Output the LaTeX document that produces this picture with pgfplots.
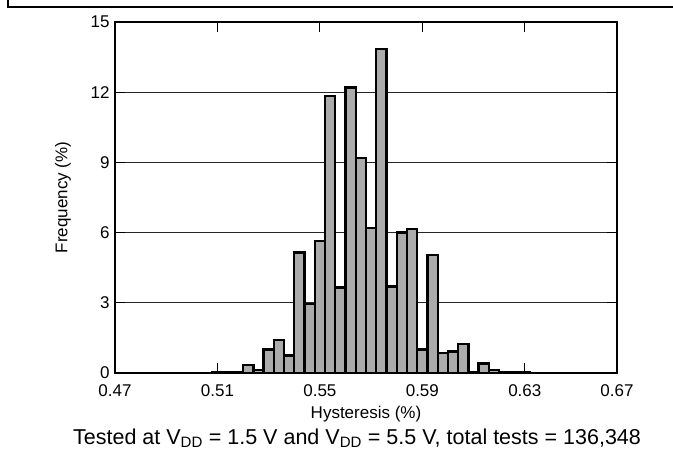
\documentclass[border=0pt]{standalone}
\usepackage{fontspec}
\setmainfont{Liberation Sans}
\usepackage{pgfplots}
\pgfplotsset{compat=1.18}
\begin{document}
\begin{tikzpicture}[x=1pt,y=1pt]
\useasboundingbox (0,0) rectangle (673,456);
\draw[line width=1.6pt] (8,456) -- (8,449) -- (673,449);
\begin{axis}[
  at={(115pt,83pt)}, anchor=south west,
  width=502pt, height=351pt, scale only axis,
  xmin=0.47, xmax=0.666, ymin=0, ymax=15,
  xtick={0.47,0.51,0.55,0.59,0.63,0.666},
  xticklabels={0.47,0.51,0.55,0.59,0.63,0.67},
  ytick={0,3,6,9,12,15},
  ymajorgrids,
  grid style={line width=1pt, black!85},
  tick style={line width=1pt, black},
  major tick length=10pt, tick align=inside,
  axis line style={line width=2.8pt},
  tick label style={font=\fontsize{17}{20}\selectfont},
  xticklabel style={yshift=-8pt},
  yticklabel style={xshift=-2pt},
  /pgf/number format/assume math mode=true,
  xlabel={Hysteresis (\%)}, ylabel={Frequency (\%)},
  label style={font=\fontsize{17}{20}\selectfont},
  xlabel style={at={(axis description cs:0.5,-0.117)}, anchor=center},
  ylabel style={at={(axis description cs:-0.1036,0.5)}, anchor=center},
]
\addplot[ybar, bar width=0.004, fill=black!33, draw=black, line width=2.4pt] coordinates {
(0.502,0.01) (0.506,0.01) (0.510,0.02) (0.514,0.02) (0.518,0.03)
(0.522,0.33) (0.526,0.12) (0.530,1.00) (0.534,1.40) (0.538,0.75)
(0.542,5.15) (0.546,2.95) (0.550,5.65) (0.554,11.85) (0.558,3.66)
(0.562,12.20) (0.566,9.20) (0.570,6.20) (0.574,13.85) (0.578,3.70)
(0.582,6.00) (0.586,6.15) (0.590,1.00) (0.594,5.05) (0.598,0.85)
(0.602,0.92) (0.606,1.25) (0.610,0.02) (0.614,0.40) (0.618,0.12)
(0.622,0.02) (0.626,0.05) (0.630,0.02)
};
\end{axis}
\node[font=\fontsize{21.5}{24}\selectfont] at (357,18) {Tested at V\textsubscript{DD} = 1.5 V and V\textsubscript{DD} = 5.5 V, total tests = 136,348};
\end{tikzpicture}
\end{document}
